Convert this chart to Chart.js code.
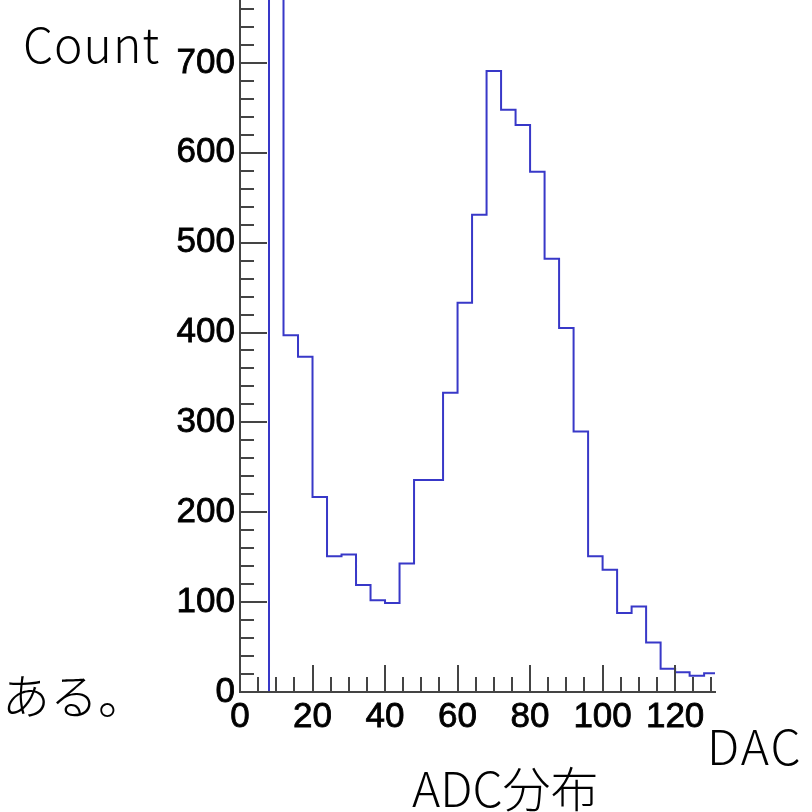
<!DOCTYPE html>
<html>
<head>
<meta charset="utf-8">
<script src="https://cdn.jsdelivr.net/npm/chart.js@4.4.1/dist/chart.umd.min.js"></script>
<style>
  body { margin: 0; background: #fff; }
  #wrap { position: relative; width: 812px; height: 812px; overflow: hidden; }
  .lbl { position: absolute; font-family: "Noto Sans CJK JP", "Noto Sans", sans-serif; font-size: 48px; font-weight: 300; line-height: 48px; color: #000; white-space: nowrap; }
</style>
</head>
<body>
<div id="wrap">
  <canvas id="hist" width="812" height="812"></canvas>
  <div class="lbl" style="left:23px; top:18px; letter-spacing:1px;">Count</div>
  <div class="lbl" style="left:2px; top:669px;">ある。</div>
  <div class="lbl" style="left:707px; top:720px; letter-spacing:2px;">DAC</div>
  <div class="lbl" style="left:412px; top:762px;">ADC分布</div>
</div>
<script>
// bin left edges (width 4) and counts
const binEdges = [0, 4, 8, 12, 16, 20, 24, 28, 32, 36, 40, 44, 48, 52, 56, 60, 64,
  68, 72, 76, 80, 84, 88, 92, 96, 100, 104, 108, 112, 116, 120, 124, 128];
const counts = [0, 0, 1500, 397, 373, 217, 151, 153, 119, 102, 99, 143, 236, 236, 333, 433, 531,
  691, 648, 631, 579, 482, 405, 290, 151, 136, 88, 95, 55, 26, 22, 18, 21];
const binWidth = 4;
const xTicks = [0, 20, 40, 60, 80, 100, 120];
const yTicks = [0, 100, 200, 300, 400, 500, 600, 700];
const xRange = [0, 131];
const yRange = [0, 770];

var points = binEdges.map(function(x, i) { return {x: x, y: counts[i]}; });
points.push({x: binEdges[binEdges.length - 1] + binWidth, y: counts[counts.length - 1]});

const axisColor = '#444';

// ROOT style ticks drawn inside the frame
const innerTicks = {
  id: 'innerTicks',
  afterDatasetsDraw(chart) {
    const ctx = chart.ctx;
    const xs = chart.scales.x, ys = chart.scales.y;
    const area = chart.chartArea;
    ctx.save();
    ctx.strokeStyle = axisColor;
    ctx.lineWidth = 2;
    ctx.beginPath();
    for (let v = yRange[0]; v <= yRange[1]; v += 20) {
      const py = Math.round(ys.getPixelForValue(v));
      const len = (v % 100 === 0) ? 27 : 14;
      ctx.moveTo(area.left, py);
      ctx.lineTo(area.left + len, py);
    }
    for (let v = xRange[0]; v <= xRange[1]; v += 5) {
      const px = Math.round(xs.getPixelForValue(v));
      const len = (v % 20 === 0) ? 27 : 15;
      ctx.moveTo(px, area.bottom);
      ctx.lineTo(px, area.bottom - len);
    }
    // axis lines on top of the histogram
    ctx.moveTo(area.left, area.top);
    ctx.lineTo(area.left, area.bottom);
    ctx.lineTo(area.right, area.bottom);
    ctx.stroke();
    ctx.restore();
  }
};

const tickFont = { family: '"Liberation Sans", Arial, sans-serif', size: 35 };

new Chart(document.getElementById('hist'), {
  type: 'line',
  data: {
    datasets: [{
      data: points,
      stepped: 'before',
      borderColor: '#3838c8',
      borderWidth: 2,
      pointRadius: 0,
      fill: false
    }]
  },
  options: {
    responsive: false,
    animation: false,
    events: [],
    layout: { padding: { top: 0, right: 97, bottom: 0, left: 0 } },
    plugins: { legend: { display: false }, tooltip: { enabled: false } },
    scales: {
      x: {
        type: 'linear',
        min: xRange[0],
        max: xRange[1],
        grid: { display: false, drawTicks: false },
        border: { display: true, color: axisColor, width: 2 },
        afterBuildTicks: function(scale) { scale.ticks = xTicks.map(function(v) { return {value: v}; }); },
        afterFit: function(scale) { scale.height = 120; scale.paddingLeft = 0; scale.paddingRight = 0; },
        ticks: { color: '#000', font: tickFont, padding: 4, maxRotation: 0, autoSkip: false,
                 textStrokeColor: '#000', textStrokeWidth: 0.8 }
      },
      y: {
        type: 'linear',
        min: yRange[0],
        max: yRange[1],
        grid: { display: false, drawTicks: false },
        border: { display: true, color: axisColor, width: 2 },
        afterBuildTicks: function(scale) { scale.ticks = yTicks.map(function(v) { return {value: v}; }); },
        afterFit: function(scale) { scale.width = 240; scale.paddingTop = 0; scale.paddingBottom = 0; },
        ticks: { color: '#000', font: tickFont, padding: 5, autoSkip: false,
                 textStrokeColor: '#000', textStrokeWidth: 0.8 }
      }
    }
  },
  plugins: [innerTicks]
});
</script>
</body>
</html>
